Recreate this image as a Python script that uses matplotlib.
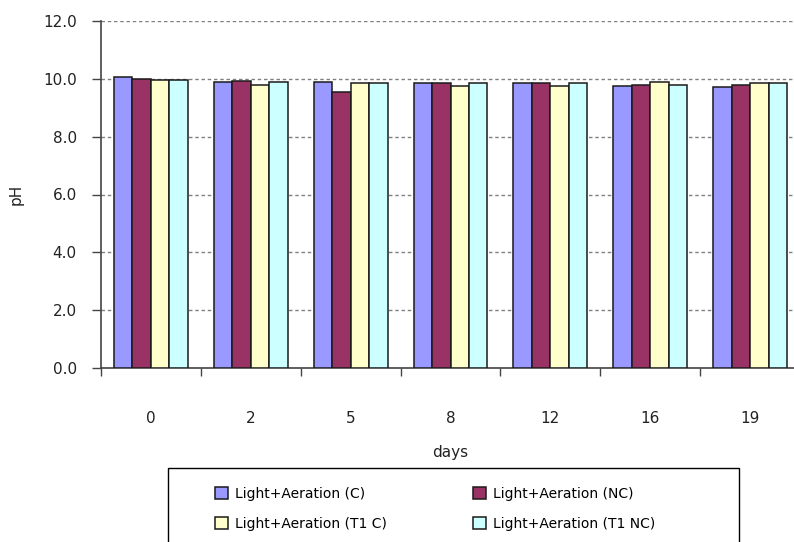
import numpy as np
import matplotlib
matplotlib.use("Agg")
import matplotlib.pyplot as plt
from matplotlib.patches import Rectangle

days = ["0", "2", "5", "8", "12", "16", "19"]
series_names = ["Light+Aeration (C)", "Light+Aeration (NC)",
                "Light+Aeration (T1 C)", "Light+Aeration (T1 NC)"]
ph_c = [10.05, 9.88, 9.88, 9.84, 9.84, 9.76, 9.71]
ph_nc = [9.98, 9.92, 9.55, 9.84, 9.84, 9.80, 9.80]
ph_t1c = [9.97, 9.80, 9.84, 9.76, 9.76, 9.88, 9.84]
ph_t1nc = [9.97, 9.88, 9.84, 9.84, 9.84, 9.80, 9.84]
colors = ["#9999FF", "#993366", "#FFFFCC", "#CCFFFF"]

plt.rcParams['font.family'] = ['DejaVu Sans']

W, H = 794, 542
fig = plt.figure(figsize=(W / 100, H / 100), dpi=100)
ax = fig.add_axes([101 / W, (H - 368) / H, (800 - 101) / W, (368 - 21) / H])

x = np.arange(len(days))
bw = 0.185
bars = []
for k, (vals, col, name) in enumerate(zip([ph_c, ph_nc, ph_t1c, ph_t1nc], colors, series_names)):
    b = ax.bar(x + (k - 1.5) * bw, vals, bw, color=col, edgecolor="#1a1a1a",
               linewidth=1.1, label=name, zorder=3)
    bars.append(b)

ax.set_xlim(-0.5, len(days) - 0.5)
ax.set_ylim(0, 12)
ax.set_yticks(np.arange(0, 12.1, 2))
ax.set_yticklabels(["%.1f" % v for v in np.arange(0, 12.1, 2)], fontsize=11, color="#222222")
ax.yaxis.grid(True, linestyle=(0, (2.5, 2.0)), color="#808080", linewidth=1.0, zorder=0)

# category labels sit well below the axis, boundary ticks between groups
ax.set_xticks(x)
ax.set_xticklabels(days, fontsize=11, color="#222222")
ax.tick_params(axis="x", which="major", length=0, pad=31)
ax.set_xticks(np.arange(-0.5, len(days), 1), minor=True)
ax.tick_params(axis="x", which="minor", length=6, width=1, color="#444444", direction="out")
ax.tick_params(axis="y", length=6.5, width=1, color="#444444", pad=11)

for s in ["top", "right"]:
    ax.spines[s].set_visible(False)
for s in ["left", "bottom"]:
    ax.spines[s].set_color("#444444")
    ax.spines[s].set_linewidth(1.2)

ax.set_ylabel("pH", fontsize=11, color="#222222", labelpad=14)
ax.set_xlabel("days", fontsize=11, color="#222222", labelpad=14)

fig.add_artist(Rectangle((168 / W, -0.1), (739 - 168) / W, (H - 468) / H + 0.1,
                         transform=fig.transFigure, fill=False,
                         edgecolor="black", linewidth=1.0))
# legend reads row by row: C, NC / T1 C, T1 NC
order = [0, 2, 1, 3]
fig.legend([bars[i] for i in order], [series_names[i] for i in order],
           loc="upper left", bbox_to_anchor=(208 / W, (H - 480) / H), ncol=2,
           frameon=False, fontsize=10, handlelength=0.95, handleheight=1.0,
           handletextpad=0.5, labelspacing=1.15, columnspacing=6.2, borderpad=0)

fig.savefig("out.png", dpi=100)
